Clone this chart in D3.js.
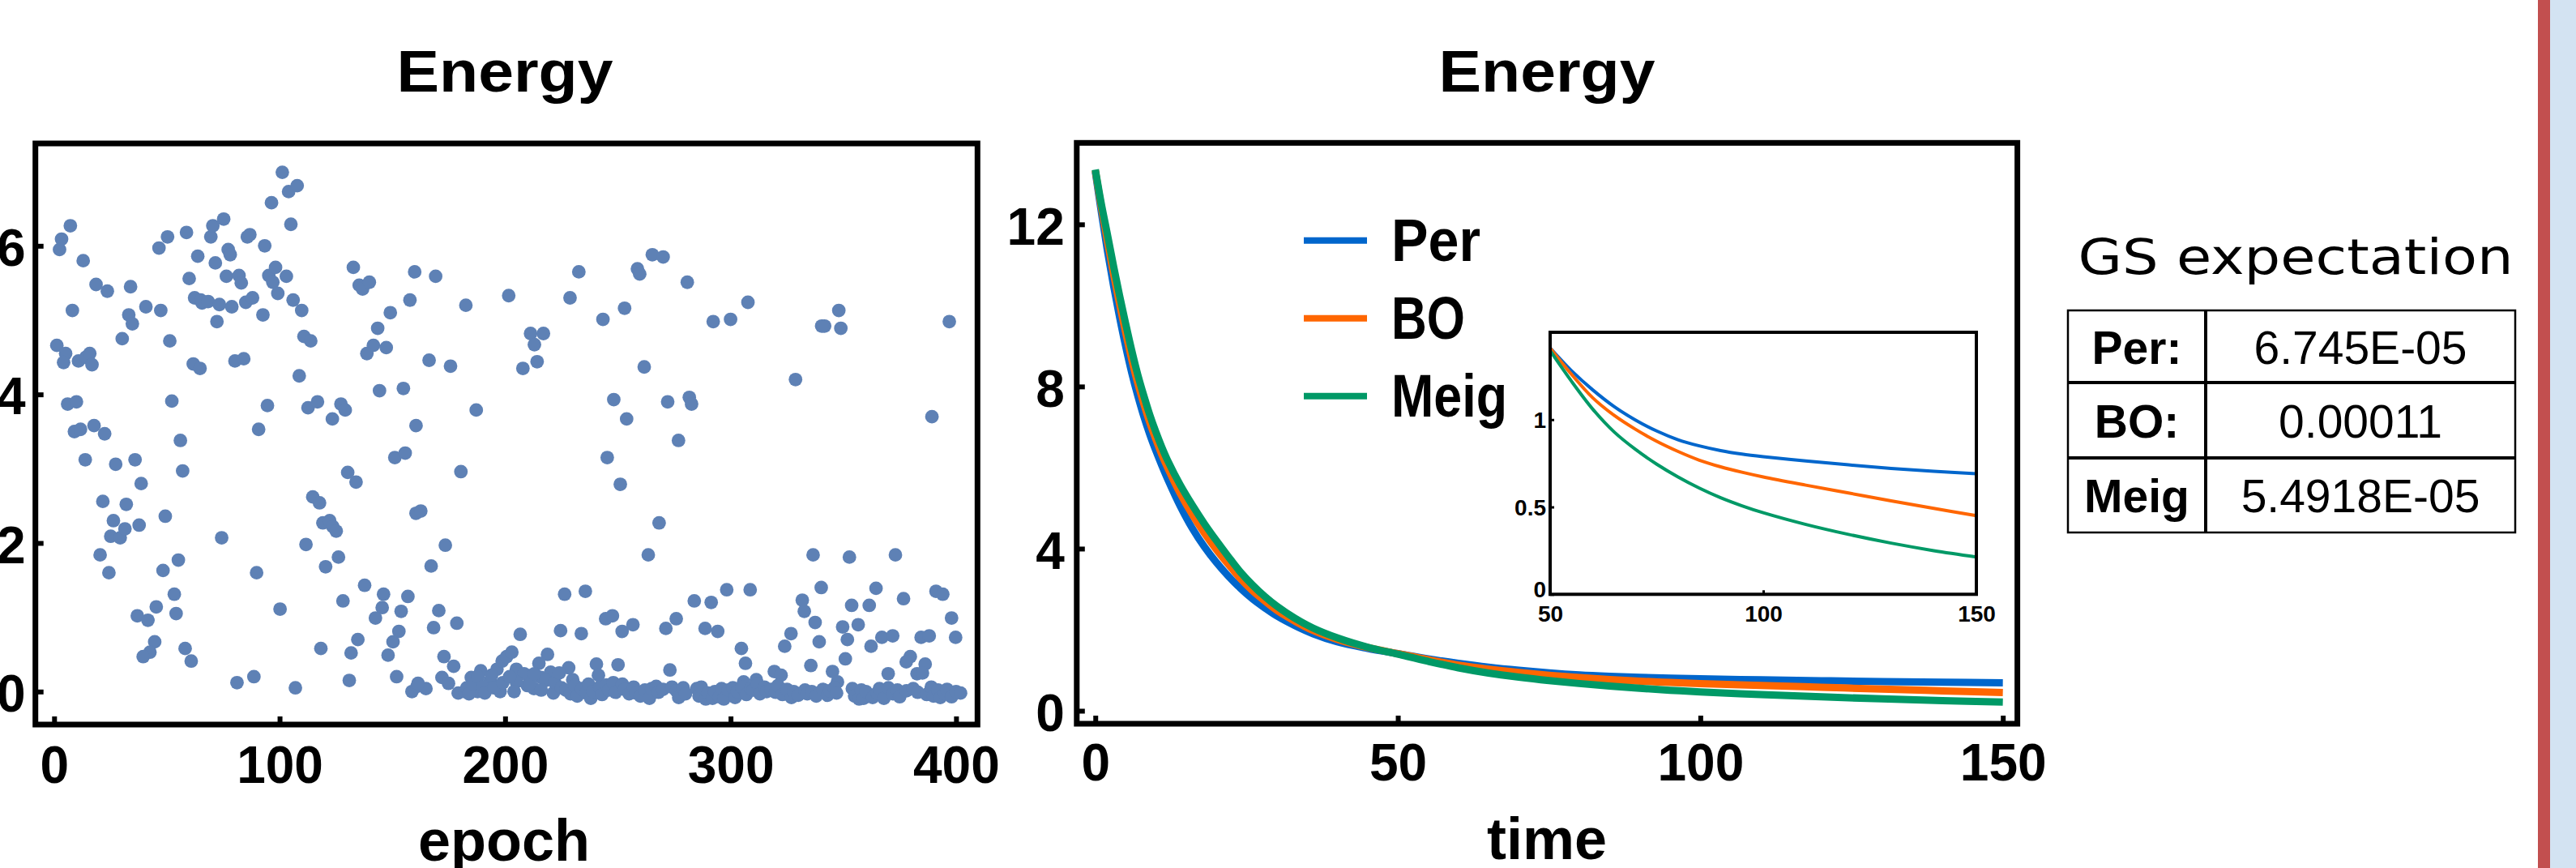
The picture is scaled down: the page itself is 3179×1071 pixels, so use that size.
<!DOCTYPE html>
<html>
<head>
<meta charset="utf-8">
<script src="https://cdn.jsdelivr.net/npm/d3@7"></script>
<style>
  body { margin: 0; background: #fff; }
  svg { display: block; }
  text { font-family: "Liberation Sans", Arial, sans-serif; }
</style>
</head>
<body>
<div id="my_dataviz"></div>
<script>
// ---- data ----

// left plot: [epoch, energy]
var scatterPoints = [
  [2.4,5.95],[3.3,6.09],[7.2,6.27],[12.9,5.8],[8.1,5.13],[18.6,5.48],[23.6,5.39],[33.9,5.45],[33.1,5.07],[34.7,4.95],
  [40.7,5.18],[47.3,5.13],[46.5,5.97],[50.3,6.12],[30.2,4.75],[51.3,4.72],[1.2,4.66],[5.1,4.55],[4.2,4.43],[10.8,4.45],
  [14.1,4.5],[15.8,4.55],[16.8,4.4],[6.0,3.87],[9.9,3.9],[9.0,3.5],[11.7,3.53],[17.7,3.58],[22.4,3.47],[13.8,3.12],
  [27.3,3.06],[35.9,3.12],[38.6,2.8],[21.6,2.56],[32.0,2.52],[52.2,3.91],[56.0,3.38],[57.0,2.97],[59.9,5.56],[58.7,6.18],
  [63.7,5.86],[69.5,6.12],[70.4,6.27],[75.2,6.36],[71.5,5.77],[77.2,5.95],[78.1,5.88],[76.4,5.59],[82,5.6],[83,5.5],
  [85.7,6.12],[86.8,6.15],[93.4,6.0],[96.4,6.58],[101.2,6.99],[104,6.73],[107.8,6.81],[105,6.29],[62.3,5.3],[65,5.27],
  [65.6,5.23],[68.3,5.25],[73.3,5.21],[78.8,5.18],[72.2,4.98],[85,5.24],[88,5.3],[92.6,5.07],[95.2,5.6],[98.2,5.71],
  [97,5.51],[99.2,5.36],[103,5.59],[106,5.27],[109.8,5.13],[110.8,4.78],[113.8,4.72],[61.7,4.41],[64.7,4.35],[80.2,4.45],
  [84.1,4.48],[108.7,4.25],[94.6,3.85],[90.7,3.53],[112.6,3.82],[116.8,3.9],[127.2,3.87],[129.1,3.79],[123.4,3.67],[132.7,5.71],
  [135.3,5.47],[136.8,5.42],[139.8,5.51],[149.1,5.1],[143.5,4.89],[141.6,4.66],[138.7,4.55],[147.3,4.63],[157.8,5.27],[159.9,5.65],
  [144.3,4.05],[154.9,4.08],[160.5,3.58],[151.1,3.15],[155.7,3.21],[130.2,2.95],[133.9,2.82],[114.7,2.62],[117.7,2.54],
  [26.3,2.3],[37.7,2.24],[49.3,2.36],[25.1,2.09],[29.3,2.07],[31.4,2.19],[20.4,1.84],[24.3,1.6],[74.3,2.07],[55.1,1.77],
  [48.3,1.63],[89.8,1.6],[111.7,1.98],[119.2,2.27],[122.2,2.3],[123.6,2.22],[125.1,2.16],[126.1,1.81],[120.4,1.68],[160.5,2.4],
  [53.3,1.31],[54.1,1.05],[45.3,1.14],[36.9,1.02],[41.6,0.96],[44.6,0.67],[42.5,0.53],[39.5,0.47],[58.1,0.58],[60.8,0.41],
  [100.2,1.11],[81.1,0.12],[88.6,0.2],[107,0.05],[137.7,1.43],[128.1,1.22],[146.1,1.31],[145.5,1.13],[142.5,0.99],[156.9,1.28],
  [153.9,1.08],[152.9,0.81],[150.3,0.67],[148.1,0.49],[134.7,0.7],[131.7,0.52],[118.3,0.58],[130.9,0.15],[151.9,0.2],[158.7,0.0],
  [161,0.07],
  [162.6,2.43],[166.3,4.46],[175.8,4.38],[169.2,5.59],[182.6,5.2],[187.2,3.79],[167.2,1.69],[173.5,1.97],[180.4,2.96],[170.6,1.09],
  [168.3,0.86],[178.6,0.92],[172.9,0.47],[172,0.19],[174.9,0.11],[177.2,0.34],[164.9,0.04],[161.4,0.11],[179.2,-0.02],[185,0.19],
  [189.2,0.28],[193.5,0.15],[196.4,0.3],[198.7,0.41],[200.7,0.47],[203,0.53],[205,0.3],[206.7,0.77],[208.4,0.24],[209.9,0.08],
  [197.8,0],[192.1,0.08],[187.8,0],[182.1,0],[207.9,4.35],[201.6,5.33],[211.3,4.82],[213,4.67],[214.2,4.44],[217,4.82],
  [218.8,0.5],[215,0.38],[215.9,0.19],[220.2,0.26],[221.4,-0.02],[218,0.15],[212.8,0.04],[205,0.13],[183,0.05],[184,-0.03],
  [186,0.1],[188,0.2],[190,0.06],[191,-0.02],[194,0.22],[195,0.05],[199,0.12],[202,0.2],[204,0.0],[211,0.1],
  [213,0.24],[216,0.02],[222,0.12],
  [232.7,5.65],[228.8,5.3],[243.4,5.01],[253,5.16],[258.7,5.69],[259.7,5.62],[265.3,5.88],[270.1,5.85],[280.8,5.51],[292.3,4.98],
  [300,5.01],[307.7,5.24],[348,5.13],[341.7,4.92],[348.9,4.89],[340.4,4.92],[397,4.98],[261.7,4.37],[328.8,4.2],[248.2,3.93],
  [272.1,3.9],[281.7,3.96],[282.7,3.87],[253.9,3.67],[276.9,3.38],[245.3,3.15],[251.1,2.79],[389.3,3.7],
  [268.3,2.27],[263.5,1.84],[336.6,1.84],[352.7,1.81],[373.1,1.84],[226.4,1.31],[235.6,1.35],[283.9,1.22],[291.4,1.2],[298.3,1.37],
  [308.7,1.37],[331.8,1.23],[332.7,1.08],[340.2,1.4],[353.7,1.16],[361.5,1.16],[364.5,1.39],[376.7,1.25],[391.1,1.35],[394.1,1.31],
  [398,0.99],[399.8,0.73],[224.6,0.82],[233.8,0.78],[244.6,0.98],[247.6,1.02],[251.9,0.81],[256.7,0.9],[271.3,0.85],[275.9,0.98],
  [288.7,0.85],[294.3,0.81],[304.8,0.58],[306.6,0.38],[324,0.61],[326.8,0.78],[337.5,0.93],[339.3,0.67],[335.6,0.35],[349.7,0.87],
  [351.8,0.7],[356.6,0.9],[350.9,0.44],[362.3,0.61],[367.1,0.73],[371.9,0.75],[384.5,0.73],[388.1,0.75],[369.9,0.24],[379.7,0.47],
  [377.9,0.4],[382.7,0.24],[386.3,0.37],[385.1,0.25],[228.2,0.32],[224,0.25],[240.5,0.37],[241.4,0.22],[250.1,0.36],[273.1,0.29],
  [319.4,0.27],[322.4,0.22],[345.2,0.27],[347.4,0.13],[311.4,0.16],[305.8,0.13],[230,0.16],
  [225,0.05],[227,0.02],[229,-0.03],[231,0.08],[232,-0.06],[234,0.04],[236,-0.02],[237,0.1],[238,-0.09],[239,0.0],
  [242,0.06],[243,-0.04],[245,0.09],[246,0.02],[248,0.12],[249,-0.01],[252,0.1],[253,0.03],[255,-0.03],[257,0.06],
  [258,-0.02],[260,-0.06],[262,0.02],[264,-0.09],[265,0.04],[267,0.07],[268,-0.01],[270,0.03],[274,0.06],[276,0.01],
  [277,-0.08],[279,0.05],[280,-0.03],[285,0.04],[286,-0.06],[287,0.06],[289,-0.1],[290,-0.02],[292,-0.09],[293,0.0],
  [295,-0.07],[296,0.04],[297,-0.1],[299,0.02],[301,0.05],[302,-0.08],[303,0.0],[305,0.06],[307,-0.04],[309,0.04],
  [310,0.02],[312,0.1],[313,-0.03],[315,0.06],[316,0.0],[318,0.03],[320,-0.01],[321,0.08],[323,-0.04],[325,0.03],
  [327,-0.08],[328,0.0],[330,-0.05],[333,0.02],[334,-0.03],[336,0.0],[338,-0.06],[341,0.03],[343,-0.05],[344,0.01],
  [346,0.05],[347,-0.02],[354,0.04],[355,-0.06],[357,-0.1],[358,0.02],[359,-0.09],[360,0.0],[363,-0.08],[365,-0.02],
  [366,0.04],[368,-0.09],[370,0.05],[372,-0.03],[374,0.02],[375,-0.07],[378,0.01],[381,0.04],[383,-0.01],[387,-0.04],
  [389,0.06],[390,-0.06],[392,0.02],[393,-0.08],[395,-0.03],[396,0.03],[398,-0.07],[400,0.0],[402,-0.02]
];

// right plot: energy vs time for the three methods
var timeSteps  = [0, 1, 2, 3, 4, 5, 6, 7, 8, 9, 10, 11, 12, 14, 16, 18, 20, 22, 24, 26, 28, 30, 33, 36, 40, 45,
                  50, 55, 60, 65, 70, 75, 80, 85, 90, 95, 100, 110, 120, 130, 140, 150];
var perValues  = [13.3, 12.3, 11.35, 10.5, 9.72, 9.0, 8.35, 7.78, 7.27, 6.82, 6.42, 6.05, 5.7, 5.06, 4.51, 4.05, 3.66, 3.32, 3.02, 2.76, 2.54, 2.34, 2.1, 1.9, 1.7, 1.54,
                  1.41, 1.28, 1.17, 1.075, 0.998, 0.935, 0.885, 0.85, 0.823, 0.803, 0.788, 0.763, 0.741, 0.721, 0.704, 0.69];
var boValues   = [13.33, 12.42, 11.59, 10.79, 10.04, 9.34, 8.68, 8.09, 7.58, 7.11, 6.7, 6.32, 5.98, 5.37, 4.85, 4.39, 3.98, 3.61, 3.26, 2.96, 2.71, 2.48, 2.21, 1.98, 1.76, 1.56,
                  1.41, 1.26, 1.125, 1.025, 0.945, 0.876, 0.818, 0.768, 0.73, 0.699, 0.672, 0.625, 0.58, 0.535, 0.492, 0.45];
var meigValues = [13.35, 12.5, 11.75, 10.98, 10.25, 9.56, 8.9, 8.3, 7.78, 7.3, 6.88, 6.5, 6.16, 5.58, 5.08, 4.62, 4.2, 3.8, 3.42, 3.1, 2.82, 2.58, 2.28, 2.04, 1.8, 1.57,
                  1.395, 1.22, 1.06, 0.93, 0.83, 0.745, 0.672, 0.608, 0.553, 0.507, 0.467, 0.4, 0.343, 0.293, 0.25, 0.214];
var seriesNames  = ["Per", "BO", "Meig"];
var seriesColors = ["#0066cc", "#ff6600", "#009966"];

// tick labels
var epochTicks  = [0, 100, 200, 300, 400];
var energyTicks = [0, 2, 4, 6];
var timeTicks   = [0, 50, 100, 150];
var curveTicks  = [0, 4, 8, 12];
var insetTimeTicks = [50, 100, 150];
var insetTicks  = [0, 0.5, 1];

// table
var tableLabels = ["Per:", "BO:", "Meig"];
var tableValues = ["6.745E-05", "0.00011", "5.4918E-05"];

// ---- drawing ----
var width = 3179
    height = 1071

var svg = d3.select("#my_dataviz")
  .append("svg")
    .attr("width", width)
    .attr("height", height)

svg.append("rect").attr("width", width).attr("height", height).attr("fill", "#fff")

// helper to style an axis group after d3 made it
function styleAxis(g, size) {
  g.select(".domain").remove()
  g.selectAll(".tick line").attr("stroke", "#000").attr("stroke-width", 6)
  g.selectAll(".tick text")
    .attr("fill", "#000")
    .style("font-family", '"Liberation Sans", Arial, sans-serif')
    .style("font-weight", "bold")
    .style("font-size", size + "px")
}

// ====== left: scatter ======
var x1 = d3.scaleLinear().domain([-8.3, 409.5]).range([43.7, 1206.3])
var y1 = d3.scaleLinear().domain([-0.444, 7.378]).range([894, 177])

svg.append("g")
  .selectAll("circle")
  .data(scatterPoints)
  .enter()
  .append("circle")
    .attr("cx", function(d) { return x1(d[0]) })
    .attr("cy", function(d) { return y1(d[1]) })
    .attr("r", 8.4)
    .attr("fill", "#5e81b5")

var gx1 = svg.append("g")
  .attr("transform", "translate(0," + y1.range()[0] + ")")
  .call(d3.axisBottom(x1).tickValues(epochTicks).tickSizeInner(-10).tickSizeOuter(0).tickPadding(27).tickFormat(d3.format("d")))
styleAxis(gx1, 64)

var gy1 = svg.append("g")
  .attr("transform", "translate(" + x1.range()[0] + ",0)")
  .call(d3.axisLeft(y1).tickValues(energyTicks).tickSizeInner(-10).tickSizeOuter(0).tickPadding(12).tickFormat(d3.format("d")))
styleAxis(gy1, 64)
gy1.selectAll(".tick text").attr("dy", "0.38em")

svg.append("rect")
  .attr("x", x1.range()[0]).attr("y", y1.range()[1])
  .attr("width", x1.range()[1] - x1.range()[0])
  .attr("height", y1.range()[0] - y1.range()[1])
  .attr("fill", "none").attr("stroke", "#000").attr("stroke-width", 7)

svg.append("text")
  .attr("x", 623).attr("y", 113)
  .attr("text-anchor", "middle")
  .attr("textLength", 267).attr("lengthAdjust", "spacingAndGlyphs")
  .style("font-weight", "bold").style("font-size", "72px")
  .text("Energy")

svg.append("text")
  .attr("x", 622).attr("y", 1062)
  .attr("text-anchor", "middle")
  .style("font-weight", "bold").style("font-size", "72px")
  .text("epoch")

// ====== right: energy vs time ======
var x2 = d3.scaleLinear().domain([-3.07, 152.4]).range([1328.8, 2489.6])
var y2 = d3.scaleLinear().domain([-0.32, 14.01]).range([893, 176.3])

var allSeries = [perValues, boValues, meigValues].map(function(vals, i) {
  return {
    name: seriesNames[i],
    color: seriesColors[i],
    values: timeSteps.map(function(t, j) { return { t: t, v: vals[j] } })
  }
})

var line2 = d3.line()
  .x(function(d) { return x2(d.t) })
  .y(function(d) { return y2(d.v) })
  .curve(d3.curveCatmullRom.alpha(0.5))

svg.append("g")
  .selectAll("path")
  .data(allSeries)
  .enter()
  .append("path")
    .attr("d", function(d) { return line2(d.values) })
    .attr("fill", "none")
    .attr("stroke", function(d) { return d.color })
    .attr("stroke-width", 9)

var gx2 = svg.append("g")
  .attr("transform", "translate(0," + y2.range()[0] + ")")
  .call(d3.axisBottom(x2).tickValues(timeTicks).tickSizeInner(-10).tickSizeOuter(0).tickPadding(25).tickFormat(d3.format("d")))
styleAxis(gx2, 64)

var gy2 = svg.append("g")
  .attr("transform", "translate(" + x2.range()[0] + ",0)")
  .call(d3.axisLeft(y2).tickValues(curveTicks).tickSizeInner(-10).tickSizeOuter(0).tickPadding(15).tickFormat(d3.format("d")))
styleAxis(gy2, 64)
gy2.selectAll(".tick text").attr("dy", "0.38em")

svg.append("rect")
  .attr("x", x2.range()[0]).attr("y", y2.range()[1])
  .attr("width", x2.range()[1] - x2.range()[0])
  .attr("height", y2.range()[0] - y2.range()[1])
  .attr("fill", "none").attr("stroke", "#000").attr("stroke-width", 7)

svg.append("text")
  .attr("x", 1909).attr("y", 113)
  .attr("text-anchor", "middle")
  .attr("textLength", 267).attr("lengthAdjust", "spacingAndGlyphs")
  .style("font-weight", "bold").style("font-size", "72px")
  .text("Energy")

svg.append("text")
  .attr("x", 1909).attr("y", 1060)
  .attr("text-anchor", "middle")
  .style("font-weight", "bold").style("font-size", "72px")
  .text("time")

// legend
var legendWidths = [110, 91, 143]
var legend = svg.append("g")
  .selectAll("g")
  .data(allSeries)
  .enter()
  .append("g")
    .attr("transform", function(d, i) { return "translate(1609," + (296.7 + i * 96) + ")" })
legend.append("line")
  .attr("x1", 0).attr("x2", 78)
  .attr("stroke", function(d) { return d.color })
  .attr("stroke-width", 8)
legend.append("text")
  .attr("x", 108).attr("y", 25)
  .attr("textLength", function(d, i) { return legendWidths[i] })
  .attr("lengthAdjust", "spacingAndGlyphs")
  .style("font-weight", "bold").style("font-size", "74px")
  .text(function(d) { return d.name })

// ====== inset ======
var x3 = d3.scaleLinear().domain([50, 150]).range([1913, 2439])
var y3 = d3.scaleLinear().domain([0, 1.5]).range([733.3, 410])

svg.append("rect")
  .attr("x", x3.range()[0]).attr("y", y3.range()[1])
  .attr("width", x3.range()[1] - x3.range()[0])
  .attr("height", y3.range()[0] - y3.range()[1])
  .attr("fill", "#fff")

var line3 = d3.line()
  .x(function(d) { return x3(d.t) })
  .y(function(d) { return y3(d.v) })
  .curve(d3.curveCatmullRom.alpha(0.5))

svg.append("g")
  .selectAll("path")
  .data(allSeries)
  .enter()
  .append("path")
    .attr("d", function(d) { return line3(d.values.filter(function(p) { return p.t >= 50 })) })
    .attr("fill", "none")
    .attr("stroke", function(d) { return d.color })
    .attr("stroke-width", 4)

var gx3 = svg.append("g")
  .attr("transform", "translate(0," + y3.range()[0] + ")")
  .call(d3.axisBottom(x3).tickValues(insetTimeTicks).tickSizeInner(-5).tickSizeOuter(0).tickPadding(14).tickFormat(d3.format("d")))
styleAxis(gx3, 28)
gx3.selectAll(".tick line").attr("stroke-width", 3)

var gy3 = svg.append("g")
  .attr("transform", "translate(" + x3.range()[0] + ",0)")
  .call(d3.axisLeft(y3).tickValues(insetTicks).tickSizeInner(-5).tickSizeOuter(0).tickPadding(5).tickFormat(d3.format("")))
styleAxis(gy3, 28)
gy3.selectAll(".tick line").attr("stroke-width", 3)
gy3.selectAll(".tick text").attr("dy", function(d) { return d === 0 ? "0.1em" : "0.36em" })

svg.append("rect")
  .attr("x", x3.range()[0]).attr("y", y3.range()[1])
  .attr("width", x3.range()[1] - x3.range()[0])
  .attr("height", y3.range()[0] - y3.range()[1])
  .attr("fill", "none").attr("stroke", "#000").attr("stroke-width", 4)

// ====== table ======
svg.append("text")
  .attr("x", 2833).attr("y", 338)
  .attr("text-anchor", "middle")
  .attr("textLength", 537).attr("lengthAdjust", "spacingAndGlyphs")
  .style("font-family", '"DejaVu Sans", sans-serif')
  .style("font-size", "61px")
  .text("GS expectation")

var rowEdges = [383, 472, 565, 657]
var table = svg.append("g")

table.append("rect")
  .attr("x", 2552).attr("y", rowEdges[0])
  .attr("width", 3104 - 2552).attr("height", rowEdges[3] - rowEdges[0])
  .attr("fill", "none").attr("stroke", "#000").attr("stroke-width", 2.5)

table.append("line")
  .attr("x1", 2722).attr("x2", 2722).attr("y1", rowEdges[0]).attr("y2", rowEdges[3])
  .attr("stroke", "#000").attr("stroke-width", 4)

table.selectAll(".rowline")
  .data([rowEdges[1], rowEdges[2]])
  .enter()
  .append("line")
    .attr("x1", 2552).attr("x2", 3104)
    .attr("y1", function(d) { return d }).attr("y2", function(d) { return d })
    .attr("stroke", "#000").attr("stroke-width", 4)

table.selectAll(".lab")
  .data(tableLabels)
  .enter()
  .append("text")
    .attr("x", 2637)
    .attr("y", function(d, i) { return (rowEdges[i] + rowEdges[i + 1]) / 2 + 21 })
    .attr("text-anchor", "middle")
    .style("font-weight", "bold").style("font-size", "57px")
    .text(function(d) { return d })

table.selectAll(".val")
  .data(tableValues)
  .enter()
  .append("text")
    .attr("x", 2913)
    .attr("y", function(d, i) { return (rowEdges[i] + rowEdges[i + 1]) / 2 + 21 })
    .attr("text-anchor", "middle")
    .style("font-size", "57px")
    .text(function(d) { return d })

// page edge stripe on the right
svg.append("rect").attr("x", 3147).attr("y", 0).attr("width", 32).attr("height", height).attr("fill", "#d3e3f2")
svg.append("rect").attr("x", 3132).attr("y", 0).attr("width", 15).attr("height", height).attr("fill", "#c24f4f")
</script>
</body>
</html>
